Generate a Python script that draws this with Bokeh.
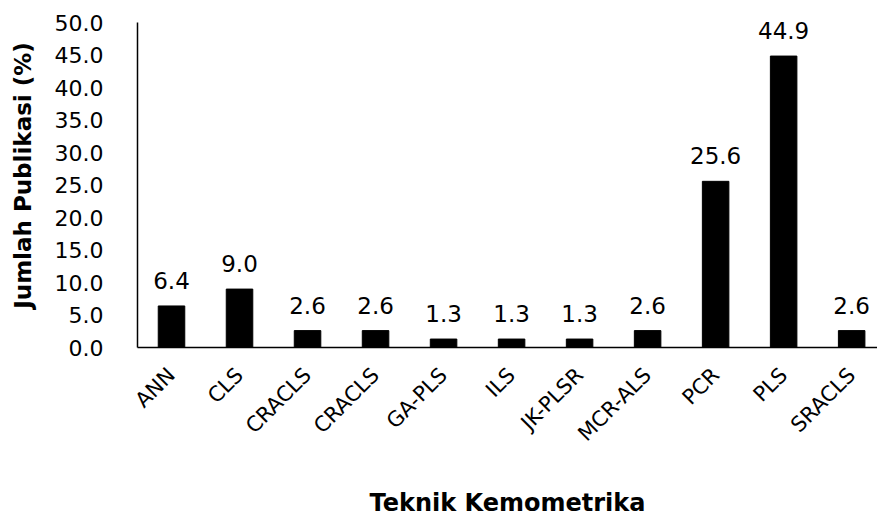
from bokeh.plotting import figure
from bokeh.models import ColumnDataSource, FixedTicker, NumeralTickFormatter, Range1d, LabelSet
from bokeh.core.properties import value
from bokeh.embed import file_html
from bokeh.resources import INLINE
import math

# Share of publications per chemometric technique (%)
techniques = ["ANN", "CLS", "CRACLS", "CRACLS", "GA-PLS", "ILS", "JK-PLSR",
              "MCR-ALS", "PCR", "PLS", "SRACLS"]
percentages = [6.4, 9.0, 2.6, 2.6, 1.3, 1.3, 1.3, 2.6, 25.6, 44.9, 2.6]
y_ticks = [0, 5, 10, 15, 20, 25, 30, 35, 40, 45, 50]

positions = list(range(len(techniques)))
source = ColumnDataSource(data=dict(
    x=positions,
    y=percentages,
    label=[f"{v:.1f}" for v in percentages],
))

FONT = "DejaVu Sans"

# the range runs a little past 50 so the value labels have headroom;
# the y axis line itself stops at 50
p = figure(width=877, height=520, output_backend="svg", toolbar_location=None,
           x_range=Range1d(-0.5, 10.38), y_range=Range1d(0, 53))
p.min_border_left = 137
p.min_border_right = 0
p.min_border_top = 3
p.min_border_bottom = 173
p.outline_line_color = None
p.background_fill_color = "white"
p.border_fill_color = "white"

p.vbar(x="x", top="y", width=0.39, source=source, fill_color="black", line_color="black")

labels = LabelSet(x="x", y="y", text="label", source=source, text_align="center",
                  text_baseline="bottom", y_offset=17, text_font=value(FONT),
                  text_font_size="23px", text_color="black")
p.add_layout(labels)

p.xgrid.grid_line_color = None
p.ygrid.grid_line_color = None

xa = p.xaxis[0]
xa.ticker = FixedTicker(ticks=positions)
xa.major_label_overrides = {i: t for i, t in enumerate(techniques)}
xa.major_label_orientation = math.pi / 4
xa.major_tick_line_color = None
xa.minor_tick_line_color = None
xa.axis_line_color = "black"
xa.axis_line_width = 1.5
xa.major_label_text_font = FONT
xa.major_label_text_font_size = "21px"
xa.major_label_text_color = "black"
xa.major_label_standoff = 18
xa.axis_label = "Teknik Kemometrika"
xa.axis_label_text_font = FONT
xa.axis_label_text_font_style = "bold"
xa.axis_label_text_font_size = "24px"
xa.axis_label_text_color = "black"
xa.axis_label_standoff = 32

ya = p.yaxis[0]
ya.ticker = FixedTicker(ticks=y_ticks)
ya.bounds = (0, 50)
ya.formatter = NumeralTickFormatter(format="0.0")
ya.major_tick_line_color = None
ya.minor_tick_line_color = None
ya.axis_line_color = "black"
ya.axis_line_width = 1.5
ya.major_label_text_font = FONT
ya.major_label_text_font_size = "22px"
ya.major_label_text_color = "black"
ya.major_label_standoff = 28
ya.axis_label = "Jumlah Publikasi (%)"
ya.axis_label_text_font = FONT
ya.axis_label_text_font_style = "bold"
ya.axis_label_text_font_size = "23px"
ya.axis_label_text_color = "black"
ya.axis_label_standoff = 16

open("out.html", "w").write(file_html(p, INLINE))
